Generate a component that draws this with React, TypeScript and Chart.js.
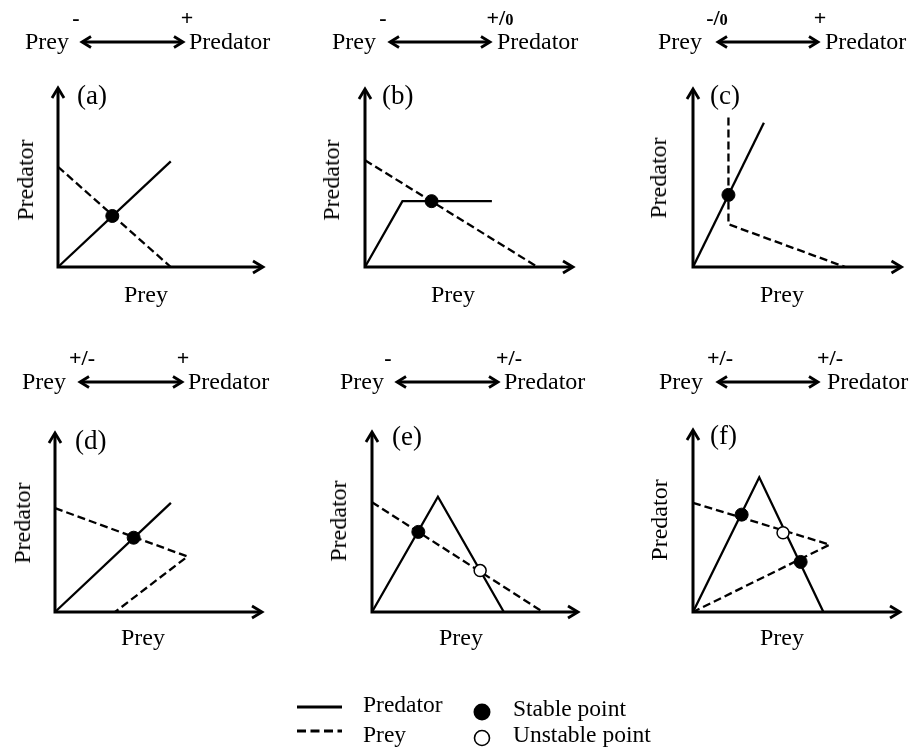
import React, { useEffect, useRef } from 'react';
import { Chart, registerables } from 'chart.js';

Chart.register(...registerables);

const FONT = '"Liberation Serif", "Times New Roman", Times, serif';

// ---------- data (x = prey, y = predator, in % of axis length) ----------
const panelLabels = ['(a)', '(b)', '(c)', '(d)', '(e)', '(f)'];
const preySigns = ['-', '-', '-/0', '+/-', '-', '+/-'];
const predatorSigns = ['+', '+/0', '+', '+', '+/-', '+/-'];

const predatorA = [{ x: 0, y: 0 }, { x: 55, y: 59 }];
const preyA = [{ x: 0, y: 56 }, { x: 55, y: 0 }];
const stableA = [{ x: 26.5, y: 28.5 }];
const unstableA: { x: number; y: number }[] = [];

const predatorB = [{ x: 0, y: 0 }, { x: 18, y: 37 }, { x: 61, y: 37 }];
const preyB = [{ x: 0, y: 60 }, { x: 83, y: 0 }];
const stableB = [{ x: 32, y: 37 }];
const unstableB: { x: number; y: number }[] = [];

const predatorC = [{ x: 0, y: 0 }, { x: 34, y: 81 }];
const preyC = [{ x: 17, y: 84 }, { x: 17, y: 24 }, { x: 73, y: 0 }];
const stableC = [{ x: 17, y: 40.5 }];
const unstableC: { x: number; y: number }[] = [];

const predatorD = [{ x: 0, y: 0 }, { x: 56, y: 61 }];
const preyD = [{ x: 0, y: 58 }, { x: 64, y: 31 }, { x: 29, y: 0 }];
const stableD = [{ x: 38, y: 41.5 }];
const unstableD: { x: number; y: number }[] = [];

const predatorE = [{ x: 0, y: 0 }, { x: 32, y: 64 }, { x: 64, y: 0 }];
const preyE = [{ x: 0, y: 61 }, { x: 83, y: 0 }];
const stableE = [{ x: 22.5, y: 44.5 }];
const unstableE = [{ x: 52.5, y: 23 }];

const predatorF = [{ x: 0, y: 0 }, { x: 32, y: 74 }, { x: 63, y: 0 }];
const preyF = [{ x: 0, y: 60 }, { x: 66, y: 37 }, { x: 0, y: 0 }];
const stableF = [{ x: 23.5, y: 53.5 }, { x: 52, y: 27.5 }];
const unstableF = [{ x: 43.5, y: 43.5 }];

const predatorSeries = [predatorA, predatorB, predatorC, predatorD, predatorE, predatorF];
const preySeries = [preyA, preyB, preyC, preyD, preyE, preyF];
const stableSeries = [stableA, stableB, stableC, stableD, stableE, stableF];
const unstableSeries = [unstableA, unstableB, unstableC, unstableD, unstableE, unstableF];

// ---------- layout (pixels) ----------
const CELL_W = 303;
const CELL_H = 330;
type Layout = {
  cell: [number, number];
  origin: [number, number];
  yTop: number;
  xTip: number;
  preyLeft: number;
  arrow: [number, number];
  predLeft: number;
  preySignX: number;
  predSignX: number;
  labelX: number;
  labelBase: number;
  xTitleX: number;
  yTitle: [number, number];
};
const layouts: Layout[] = [
  { cell: [0, 0], origin: [58, 267], yTop: 88, xTip: 263, preyLeft: 25, arrow: [82, 183], predLeft: 189, preySignX: 76, predSignX: 187, labelX: 77, labelBase: 105, xTitleX: 146, yTitle: [25, 180] },
  { cell: [303, 0], origin: [365, 267], yTop: 89, xTip: 573, preyLeft: 332, arrow: [390, 490], predLeft: 497, preySignX: 383, predSignX: 500, labelX: 382, labelBase: 105, xTitleX: 453, yTitle: [331, 180] },
  { cell: [606, 0], origin: [693, 267], yTop: 89, xTip: 902, preyLeft: 658, arrow: [718, 818], predLeft: 825, preySignX: 717, predSignX: 820, labelX: 710, labelBase: 105, xTitleX: 782, yTitle: [658, 178] },
  { cell: [0, 330], origin: [55, 612], yTop: 433, xTip: 262, preyLeft: 22, arrow: [80, 182], predLeft: 188, preySignX: 82, predSignX: 183, labelX: 75, labelBase: 450, xTitleX: 143, yTitle: [22, 523] },
  { cell: [303, 330], origin: [372, 612], yTop: 432, xTip: 578, preyLeft: 340, arrow: [397, 498], predLeft: 504, preySignX: 388, predSignX: 509, labelX: 392, labelBase: 446, xTitleX: 461, yTitle: [338, 521] },
  { cell: [606, 330], origin: [693, 612], yTop: 430, xTip: 900, preyLeft: 659, arrow: [718, 818], predLeft: 827, preySignX: 720, predSignX: 830, labelX: 710, labelBase: 445, xTitleX: 782, yTitle: [659, 520] },
];
const headerBase = [49, 389];
const headerArrowY = [42, 382];
const signBase = [25, 365];
const xTitleBase = [302, 645];

const TEXT = 24;
const SIGN = 22;
const LABEL = 27;

// ---------- drawing helpers ----------
function chevron(ctx: CanvasRenderingContext2D, tx: number, ty: number, dx: number, dy: number, len: number, half: number) {
  const px = -dy;
  const py = dx;
  ctx.beginPath();
  ctx.moveTo(tx - dx * len + px * half, ty - dy * len + py * half);
  ctx.lineTo(tx, ty);
  ctx.lineTo(tx - dx * len - px * half, ty - dy * len - py * half);
  ctx.stroke();
}

const decoPlugin = {
  id: 'panelDeco',
  beforeDatasetsDraw(chart: any, _args: any, opts: any) {
    const ctx: CanvasRenderingContext2D = chart.ctx;
    const xs = chart.scales.x;
    const ys = chart.scales.y;
    const x0 = xs.getPixelForValue(0);
    const x1 = xs.getPixelForValue(100);
    const y0 = ys.getPixelForValue(0);
    const y1 = ys.getPixelForValue(100);
    ctx.save();
    ctx.strokeStyle = '#000';
    ctx.lineWidth = 3;
    ctx.lineJoin = 'miter';
    ctx.lineCap = 'butt';
    ctx.beginPath();
    ctx.moveTo(x0, y1 + 1);
    ctx.lineTo(x0, y0);
    ctx.lineTo(x1 - 1, y0);
    ctx.stroke();
    ctx.lineWidth = 2.8;
    chevron(ctx, x0, y1, 0, -1, 10, 6);
    chevron(ctx, x1, y0, 1, 0, 10, 6);
    // header double arrow
    const [ax1, ax2, ay] = opts.arrow;
    ctx.lineWidth = 3;
    ctx.beginPath();
    ctx.moveTo(ax1 + 1, ay);
    ctx.lineTo(ax2 - 1, ay);
    ctx.stroke();
    ctx.lineWidth = 2.8;
    chevron(ctx, ax2, ay, 1, 0, 9, 5.5);
    chevron(ctx, ax1, ay, -1, 0, 9, 5.5);
    ctx.restore();
  },
};

function Panel({ i }: { i: number }) {
  const ref = useRef<HTMLCanvasElement>(null);
  const L = layouts[i];
  const row = L.cell[1] === 0 ? 0 : 1;
  useEffect(() => {
    const canvas = ref.current!;
    const chart = new Chart(canvas, {
      type: 'scatter',
      data: {
        datasets: [
          {
            label: 'Stable point',
            data: stableSeries[i],
            showLine: false,
            pointRadius: 6.5,
            pointBackgroundColor: '#000',
            pointBorderColor: '#000',
            pointBorderWidth: 1,
            order: 0,
            clip: false,
          },
          {
            label: 'Unstable point',
            data: unstableSeries[i],
            showLine: false,
            pointRadius: 6,
            pointBackgroundColor: '#fff',
            pointBorderColor: '#000',
            pointBorderWidth: 1.5,
            order: 0,
            clip: false,
          },
          {
            label: 'Predator',
            data: predatorSeries[i],
            showLine: true,
            borderColor: '#000',
            borderWidth: 2.3,
            pointRadius: 0,
            tension: 0,
            order: 1,
            clip: false,
          },
          {
            label: 'Prey',
            data: preySeries[i],
            showLine: true,
            borderColor: '#000',
            borderWidth: 2.3,
            borderDash: [8, 4],
            pointRadius: 0,
            tension: 0,
            order: 1,
            clip: false,
          },
        ] as any,
      },
      options: {
        responsive: false,
        animation: false,
        events: [],
        layout: {
          padding: {
            left: L.origin[0] - L.cell[0],
            right: L.cell[0] + CELL_W - L.xTip,
            top: L.yTop - L.cell[1],
            bottom: L.cell[1] + CELL_H - L.origin[1],
          },
        },
        scales: {
          x: { type: 'linear', min: 0, max: 100, display: false },
          y: { type: 'linear', min: 0, max: 100, display: false },
        },
        plugins: {
          legend: { display: false },
          tooltip: { enabled: false },
          panelDeco: {
            arrow: [L.arrow[0] - L.cell[0], L.arrow[1] - L.cell[0], headerArrowY[row] - L.cell[1]],
          },
        } as any,
      },
      plugins: [decoPlugin],
    });
    return () => chart.destroy();
  }, [i]);
  return (
    <canvas
      ref={ref}
      width={CELL_W}
      height={CELL_H}
      style={{ position: 'absolute', left: L.cell[0], top: L.cell[1], width: CELL_W, height: CELL_H }}
    />
  );
}

const legendPlugin = {
  id: 'legendDeco',
  afterDraw(chart: any) {
    const ctx: CanvasRenderingContext2D = chart.ctx;
    ctx.save();
    ctx.strokeStyle = '#000';
    ctx.fillStyle = '#000';
    ctx.lineWidth = 3;
    ctx.beginPath();
    ctx.moveTo(17, 17);
    ctx.lineTo(62, 17);
    ctx.stroke();
    ctx.setLineDash([9, 4.5]);
    ctx.beginPath();
    ctx.moveTo(17, 41);
    ctx.lineTo(62, 41);
    ctx.stroke();
    ctx.setLineDash([]);
    ctx.beginPath();
    ctx.arc(202, 22, 8.5, 0, Math.PI * 2);
    ctx.fill();
    ctx.lineWidth = 1.6;
    ctx.fillStyle = '#fff';
    ctx.beginPath();
    ctx.arc(202, 48, 7.5, 0, Math.PI * 2);
    ctx.fill();
    ctx.stroke();
    ctx.restore();
  },
};

function LegendSwatches() {
  const ref = useRef<HTMLCanvasElement>(null);
  useEffect(() => {
    const chart = new Chart(ref.current!, {
      type: 'scatter',
      data: { datasets: [] },
      options: {
        responsive: false,
        animation: false,
        events: [],
        scales: { x: { display: false }, y: { display: false } },
        plugins: { legend: { display: false }, tooltip: { enabled: false } },
      },
      plugins: [legendPlugin],
    });
    return () => chart.destroy();
  }, []);
  return <canvas ref={ref} width={230} height={62} style={{ position: 'absolute', left: 280, top: 690, width: 230, height: 62 }} />;
}

function Txt({ x, base, size, center, bold, children }: { x: number; base: number; size: number; center?: boolean; bold?: boolean; children: React.ReactNode }) {
  return (
    <div
      style={{
        position: 'absolute',
        left: x,
        top: base - 0.8375 * size,
        fontSize: size,
        lineHeight: `${size}px`,
        whiteSpace: 'nowrap',
        fontWeight: bold ? 700 : 400,
        transform: center ? 'translateX(-50%)' : undefined,
      }}
    >
      {children}
    </div>
  );
}

function Sign({ s }: { s: string }) {
  if (s.endsWith('/0')) {
    return (
      <span>
        {s.slice(0, -1)}
        <span style={{ fontSize: '0.75em' }}>0</span>
      </span>
    );
  }
  return <span>{s}</span>;
}

export default function App() {
  return (
    <div
      style={{
        position: 'absolute',
        left: 0,
        top: 0,
        width: 909,
        height: 755,
        background: '#fff',
        color: '#000',
        fontFamily: FONT,
        overflow: 'hidden',
      }}
    >
      {layouts.map((L, i) => {
        const row = L.cell[1] === 0 ? 0 : 1;
        return (
          <React.Fragment key={i}>
            <Panel i={i} />
            <Txt x={L.preyLeft} base={headerBase[row]} size={TEXT}>Prey</Txt>
            <Txt x={L.predLeft} base={headerBase[row]} size={TEXT}>Predator</Txt>
            <Txt x={L.preySignX} base={signBase[row]} size={SIGN} center bold>
              <Sign s={preySigns[i]} />
            </Txt>
            <Txt x={L.predSignX} base={signBase[row]} size={SIGN} center bold>
              <Sign s={predatorSigns[i]} />
            </Txt>
            <Txt x={L.labelX} base={L.labelBase} size={LABEL}>{panelLabels[i]}</Txt>
            <Txt x={L.xTitleX} base={xTitleBase[row]} size={TEXT} center>Prey</Txt>
            <div
              style={{
                position: 'absolute',
                left: L.yTitle[0],
                top: L.yTitle[1],
                fontSize: TEXT,
                lineHeight: `${TEXT}px`,
                whiteSpace: 'nowrap',
                transform: 'translate(-50%, -50%) rotate(-90deg)',
              }}
            >
              Predator
            </div>
          </React.Fragment>
        );
      })}
      <LegendSwatches />
      <Txt x={363} base={713} size={23.5}>Predator</Txt>
      <Txt x={363} base={743} size={23.5}>Prey</Txt>
      <Txt x={513} base={717} size={23.5}>Stable point</Txt>
      <Txt x={513} base={743} size={23.5}>Unstable point</Txt>
    </div>
  );
}
